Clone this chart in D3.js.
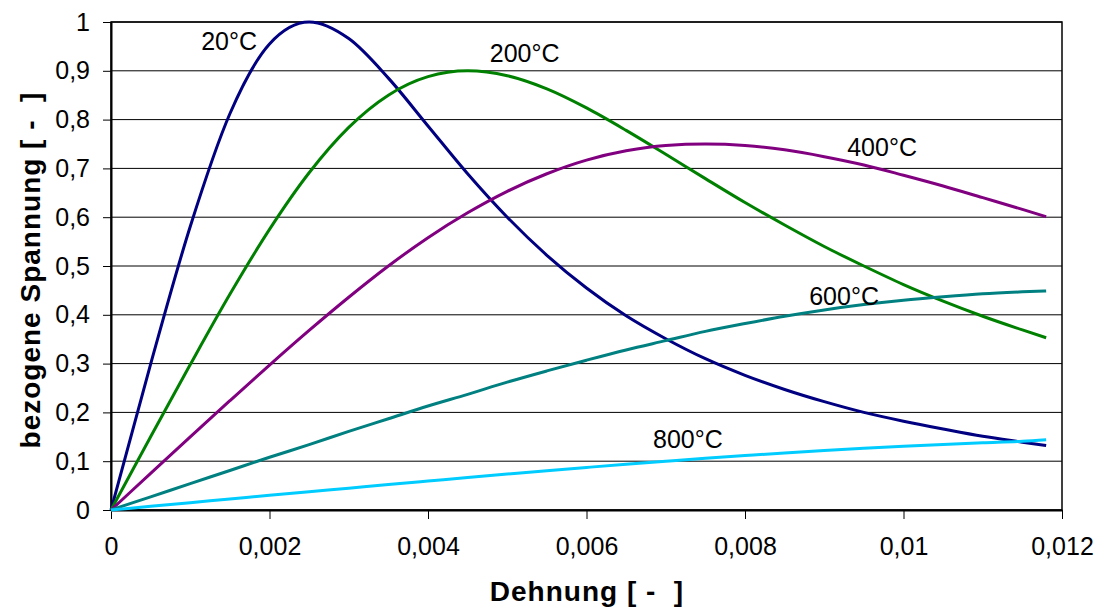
<!DOCTYPE html>
<html>
<head>
<meta charset="utf-8">
<script src="https://cdn.jsdelivr.net/npm/d3@7"></script>
<style>
  body { margin: 0; background: white; }
  text { font-family: "Liberation Sans", Arial, sans-serif; }
</style>
</head>
<body>
<div id="chart"></div>
<script>
// strain values (x axis)
const dehnung = [0, 0.0005, 0.001, 0.0015, 0.002, 0.0025, 0.003, 0.0035, 0.004, 0.0045, 0.005, 0.0055,
  0.006, 0.0065, 0.007, 0.0075, 0.008, 0.0085, 0.009, 0.0095, 0.01, 0.0105, 0.011, 0.0115, 0.0118];

// normalised stress, one array per temperature
const s20  = [0, 0.299, 0.581, 0.812, 0.955, 1.0, 0.966, 0.885, 0.787, 0.689, 0.600, 0.522,
  0.455, 0.398, 0.351, 0.310, 0.276, 0.247, 0.222, 0.200, 0.182, 0.166, 0.151, 0.139, 0.132];
const s200 = [0, 0.150, 0.298, 0.442, 0.575, 0.691, 0.784, 0.850, 0.888, 0.900, 0.890, 0.863,
  0.824, 0.778, 0.729, 0.679, 0.630, 0.584, 0.540, 0.500, 0.462, 0.428, 0.397, 0.369, 0.353];
const s400 = [0, 0.075, 0.150, 0.224, 0.297, 0.368, 0.436, 0.500, 0.558, 0.609, 0.653, 0.689,
  0.717, 0.736, 0.747, 0.750, 0.747, 0.738, 0.724, 0.707, 0.686, 0.664, 0.640, 0.616, 0.601];
const s600 = [0, 0.027, 0.054, 0.081, 0.108, 0.134, 0.161, 0.187, 0.213, 0.237, 0.262, 0.285,
  0.307, 0.328, 0.347, 0.366, 0.382, 0.397, 0.410, 0.421, 0.430, 0.437, 0.443, 0.447, 0.449];
const s800 = [0, 0.0075, 0.015, 0.0225, 0.030, 0.0374, 0.0448, 0.0522, 0.0594, 0.0666, 0.0736, 0.0805,
  0.0872, 0.0937, 0.0999, 0.1059, 0.1115, 0.1169, 0.1218, 0.1264, 0.1306, 0.1344, 0.1378, 0.1408, 0.144];

const temperaturen = ["20°C", "200°C", "400°C", "600°C", "800°C"];
const farben = ["#000080", "#008000", "#800080", "#008080", "#00ccff"];
const reihen = [s20, s200, s400, s600, s800];

// label anchor points (data coords, baseline centre)
const labelX = [0.00149, 0.00522, 0.00973, 0.00925, 0.00728];
const labelY = [0.943, 0.918, 0.725, 0.42, 0.127];

const xTicks = [0, 0.002, 0.004, 0.006, 0.008, 0.01, 0.012];
const yTicks = [0, 0.1, 0.2, 0.3, 0.4, 0.5, 0.6, 0.7, 0.8, 0.9, 1];

const W = 1101, H = 613;
const m = { left: 111, right: 1062, top: 22, bottom: 510 };

const svg = d3.select("#chart").append("svg")
  .attr("width", W).attr("height", H);

const x = d3.scaleLinear().domain([0, 0.012]).range([m.left, m.right]);
const y = d3.scaleLinear().domain([0, 1]).range([m.bottom, m.top]);

const fmt = d => String(+d.toFixed(3)).replace(".", ",");

// gridlines
svg.append("g").selectAll("line").data(yTicks).join("line")
  .attr("x1", m.left).attr("x2", m.right)
  .attr("y1", d => y(d)).attr("y2", d => y(d))
  .attr("stroke", "#000").attr("stroke-width", 1);

// plot border
svg.append("rect")
  .attr("x", m.left).attr("y", m.top)
  .attr("width", m.right - m.left).attr("height", m.bottom - m.top)
  .attr("fill", "none").attr("stroke", "#000").attr("stroke-width", 1.5);

// axes
const xAxis = svg.append("g").attr("transform", "translate(0," + m.bottom + ")")
  .call(d3.axisBottom(x).tickValues(xTicks).tickFormat(fmt).tickSizeInner(9).tickSizeOuter(0).tickPadding(18));
const yAxis = svg.append("g").attr("transform", "translate(" + m.left + ",0)")
  .call(d3.axisLeft(y).tickValues(yTicks).tickFormat(fmt).tickSizeInner(8).tickSizeOuter(0).tickPadding(13));

[xAxis, yAxis].forEach(a => {
  a.select(".domain").attr("stroke", "#000").attr("stroke-width", 2);
  a.selectAll(".tick line").attr("stroke", "#000").attr("stroke-width", 1);
  a.selectAll("text").attr("font-size", 25).attr("fill", "#000")
    .style("font-family", "'Liberation Sans', Arial, sans-serif");
});

// curves
const linie = d3.line()
  .x((d, i) => x(dehnung[i]))
  .y(d => y(d))
  .curve(d3.curveMonotoneX);

svg.append("g").selectAll("path").data(reihen).join("path")
  .attr("d", d => linie(d))
  .attr("fill", "none")
  .attr("stroke", (d, i) => farben[i])
  .attr("stroke-width", 3);

// curve labels
svg.append("g").selectAll("text").data(temperaturen).join("text")
  .attr("x", (d, i) => x(labelX[i]))
  .attr("y", (d, i) => y(labelY[i]))
  .attr("text-anchor", "middle")
  .attr("font-size", 25)
  .text(d => d);

// axis titles
svg.append("text")
  .attr("x", 587).attr("y", 601)
  .attr("text-anchor", "middle")
  .attr("font-size", 28).attr("font-weight", "bold")
  .attr("letter-spacing", 1)
  .style("white-space", "pre")
  .text("Dehnung [ -  ]");

svg.append("text")
  .attr("transform", "translate(40,270) rotate(-90)")
  .attr("text-anchor", "middle")
  .attr("font-size", 28).attr("font-weight", "bold")
  .attr("letter-spacing", 1)
  .style("white-space", "pre")
  .text("bezogene Spannung [ -  ]");
</script>
</body>
</html>
